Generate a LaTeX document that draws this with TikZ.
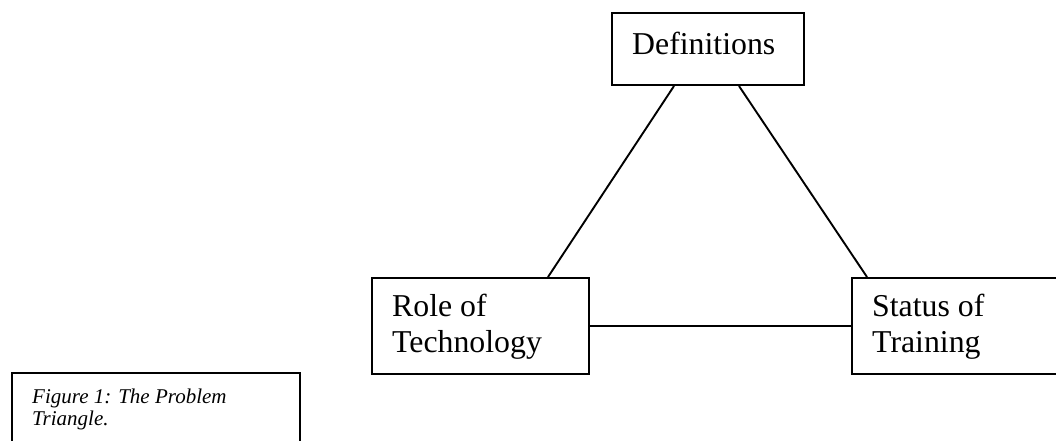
\documentclass[tikz,border=0pt]{standalone}
\usepackage{fontspec}
\setmainfont{Liberation Serif}
\usetikzlibrary{calc}
\begin{document}
\begin{tikzpicture}[x=1pt,y=-1pt,
  box/.style={draw,line width=2pt,rectangle,inner sep=0pt,anchor=north west},
  boxtext/.style={inner sep=0pt,anchor=north west,align=left,font=\fontsize{31.8}{36}\selectfont},
  captext/.style={inner sep=0pt,anchor=north west,align=left,font=\fontsize{21}{22}\selectfont\itshape},
  link/.style={line width=1.9pt}]
\useasboundingbox (0,0) rectangle (1056,440);
\clip (0,0) rectangle (1056,440);
% boxes
\node[box,minimum width=192pt,minimum height=72pt] (def) at (611,12) {};
\node[box,minimum width=217pt,minimum height=96pt] (role) at (371,277) {};
\node[box,minimum width=217pt,minimum height=96pt] (status) at (851,277) {};
\node[box,minimum width=288pt,minimum height=100pt,line width=1.6pt] (cap) at (11,372) {};
% texts
\node[boxtext] (deftext) at (632,31.5) {Definitions};
\node[boxtext] (roletext) at (392,293.5) {Role of\\Technology};
\node[boxtext] (statustext) at (872,293.5) {Status of\\Training};
\node[captext] (captext) at (32,388.5) {Figure 1: The Problem\\Triangle.};
% connector ends
\coordinate (dl) at ($(def.south west)+(63,0)$);
\coordinate (dr) at ($(def.south west)+(128,0)$);
\coordinate (rt) at ($(role.north west)+(177,0)$);
\coordinate (st) at ($(status.north west)+(16,0)$);
% connectors
\draw[link] (dl) -- (rt);
\draw[link] (dr) -- (st);
\draw[link] (role.east) -- (status.west);
\end{tikzpicture}
\end{document}
